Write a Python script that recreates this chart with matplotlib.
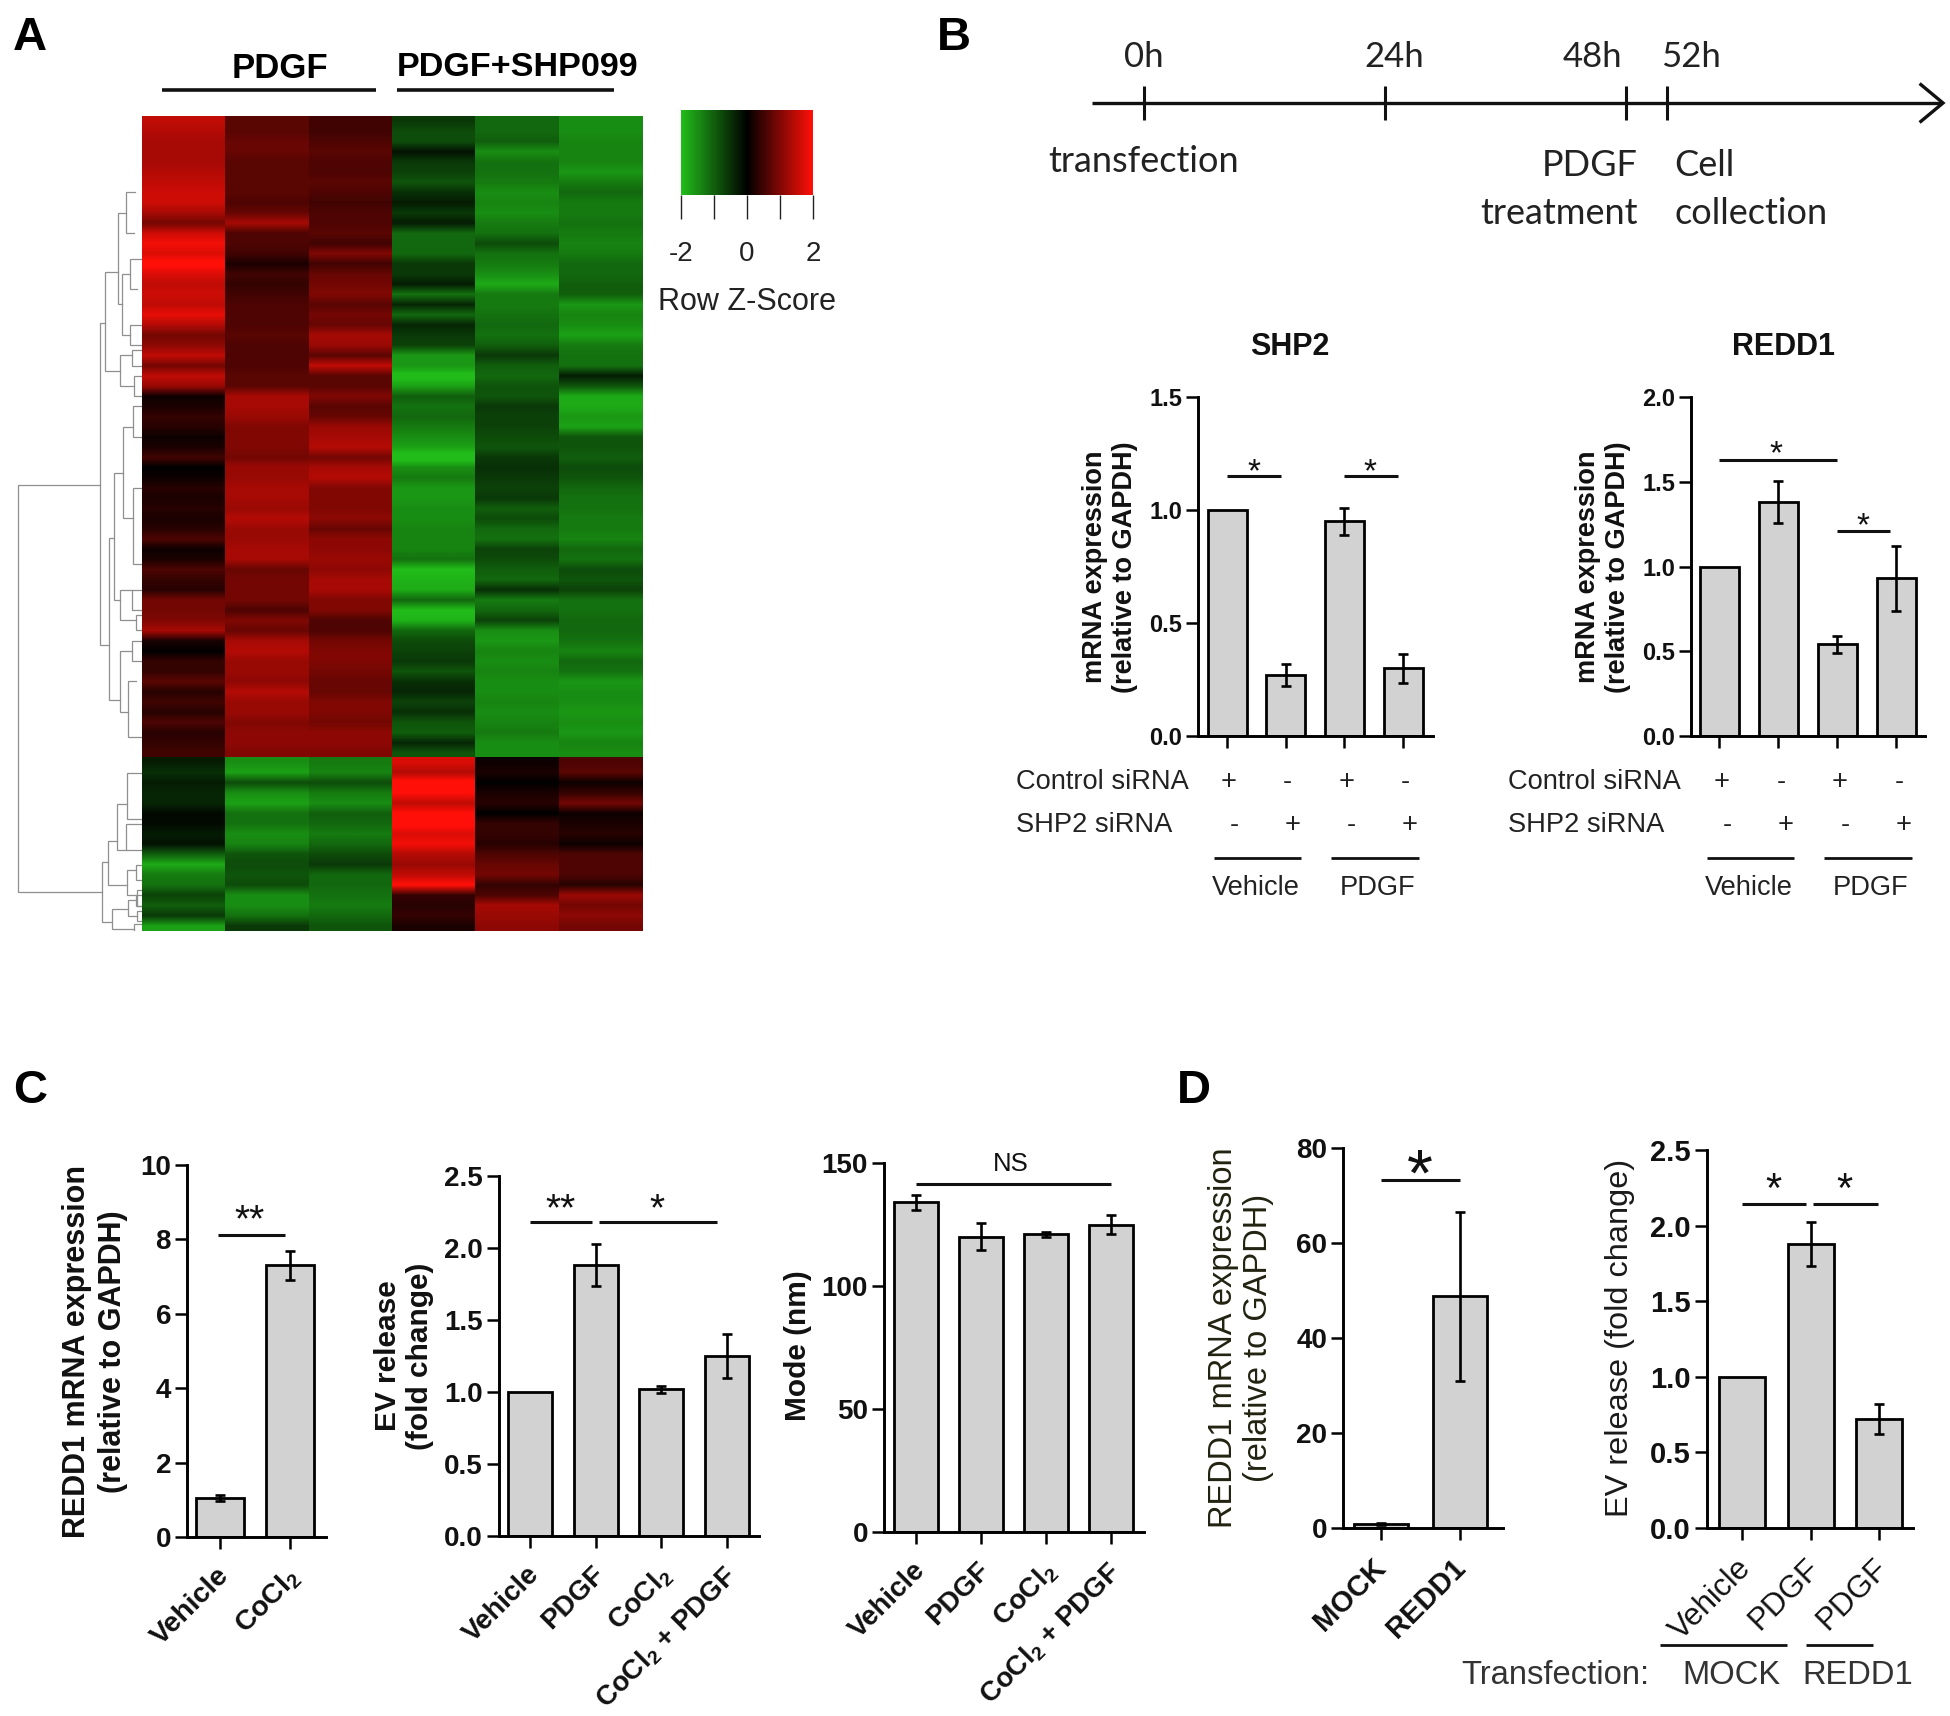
import numpy as np
import matplotlib
matplotlib.use("Agg")
import matplotlib.pyplot as plt
from matplotlib.colors import LinearSegmentedColormap, Normalize
from matplotlib.cm import ScalarMappable

W, H = 1950, 1716
plt.rcParams['font.family'] = ['Liberation Sans', 'DejaVu Sans']
plt.rcParams['mathtext.fontset'] = 'custom'
plt.rcParams['mathtext.rm'] = 'Liberation Sans:bold'
plt.rcParams['mathtext.it'] = 'Liberation Sans:bold'
plt.rcParams['mathtext.bf'] = 'Liberation Sans:bold'
plt.rcParams['mathtext.default'] = 'rm'

# ---------- heatmap values (row z-score x 10), one list per sample ----------
pdgf_1 = [15,14,13,13,13,14,15,16,16,13,9,16,19,17,21,17,15,16,15,18,14,9,11,15,9,15,12,
          1,2,4,3,1,2,5,0,1,3,2,3,2,3,6,1,2,6,4,3,9,9,10,13,2,0,4,4,7,3,5,3,6,3,4,5,
          -3,-5,-3,-4,-4,-1,-1,-3,-2,-10,-18,-13,-12,-7,-10,-6,-17]
pdgf_2 = [7,7,8,8,7,7,7,7,6,8,13,6,6,5,2,5,4,5,6,6,6,7,6,6,6,7,7,
          13,13,12,10,10,10,9,12,12,13,13,12,14,12,12,13,13,8,9,9,9,6,10,8,13,14,12,12,11,14,12,12,10,11,11,10,
          -15,-17,-8,-15,-17,-12,-12,-15,-14,-9,-8,-9,-8,-15,-15,-12,-6]
pdgf_3 = [5,5,6,7,6,6,7,6,5,6,6,7,5,10,5,8,9,10,7,9,8,13,12,7,15,7,7,
          10,7,8,12,13,14,9,13,14,10,10,10,11,8,11,11,12,11,13,13,10,10,6,6,9,10,10,9,8,8,10,10,9,11,11,10,
          -13,-14,-8,-13,-15,-10,-11,-13,-11,-8,-6,-11,-11,-12,-13,-11,-9]
shp_1 = [-6,-8,-8,-2,-6,-7,-9,-5,-3,-6,-3,-11,-11,-11,-6,-6,-3,-12,-4,-11,-4,-6,-7,-16,-16,-21,-17,
         -10,-12,-11,-13,-15,-17,-22,-15,-13,-16,-16,-15,-15,-14,-14,-14,-12,-20,-19,-18,-11,-20,-19,-11,-8,-7,-6,-9,-5,-4,-7,-5,-9,-10,-4,-9,
         17,14,21,20,15,20,21,17,19,14,12,15,20,4,3,4,2]
shp_2 = [-11,-11,-10,-15,-12,-12,-13,-15,-14,-15,-13,-12,-8,-12,-13,-15,-18,-13,-13,-12,-11,-12,-10,-6,-10,-11,-9,
         -9,-6,-7,-7,-8,-9,-6,-5,-6,-7,-6,-10,-8,-11,-12,-7,-8,-10,-11,-5,-13,-11,-7,-15,-16,-14,-15,-14,-15,-15,-14,-15,-14,-13,-15,-15,
         1,2,0,2,3,0,4,4,3,6,8,9,4,6,13,12,11]
shp_3 = [-15,-15,-14,-14,-14,-16,-13,-11,-13,-13,-12,-13,-14,-13,-11,-11,-10,-10,-16,-14,-15,-17,-13,-12,-12,-3,-9,
         -18,-18,-16,-17,-9,-9,-10,-8,-9,-11,-12,-12,-13,-13,-14,-11,-12,-8,-9,-7,-12,-12,-11,-11,-12,-14,-11,-12,-16,-15,-15,-16,-15,-16,-14,-15,
         6,7,1,4,9,1,2,3,1,6,6,6,3,12,9,11,9]
upper_cluster_rows = 63

# ---------- dendrogram merges: height, upper row, upper child height, lower row, lower child height ----------
dend_h  = [124,42,37,24,16,20,12,12,22,10,8,33,28,19,9,9,22,10,6,22,10,14,40,34,25,15,16,15,6,5,30,14,6,5,8]
dend_r1 = [35.7,19.8,14.8,9,7,15,13.5,20,23,22.5,25,40.9,34.5,30,28,36,46,46,48.5,52,51,55,72.7,70.7,67,64,69,73.5,73,75.5,77.3,76.5,76,77.5,78.8]
dend_h1 = [42,37,24,16,7,12,0,0,10,0,0,28,19,9,0,0,10,0,0,10,0,6,34,25,15,0,0,6,0,0,14,6,0,0,0]
dend_r2 = [75.7,51.4,24.5,18,11,21,16.5,22,26,24,27,56.8,47,39,31,43.5,49,48,50,58,53,60.5,78.6,75,71.5,68.5,71.5,76,74.5,77,79.3,78,77,78.5,79.7]
dend_h2 = [40,33,22,20,8,12,5,0,8,0,0,22,22,9,0,0,6,0,0,14,0,0,30,15,16,0,0,5,0,0,8,5,0,0,0]

# ---------- timeline ----------
time_hours = [0, 24, 48, 52]
time_labels = ['0h', '24h', '48h', '52h']

# ---------- bar panels ----------
siRNA_groups = ['Vehicle', 'PDGF']
control_marks = ['+', '-', '+', '-']
shp2_marks = ['-', '+', '-', '+']

shp2_vals = [1.0, 0.27, 0.95, 0.30]
shp2_err = [0, 0.05, 0.06, 0.065]
shp2_ticks = [0.0, 0.5, 1.0, 1.5]

redd1_vals = [1.0, 1.38, 0.54, 0.93]
redd1_err = [0, 0.125, 0.05, 0.19]
redd1_ticks = [0.0, 0.5, 1.0, 1.5, 2.0]

c1_labels = ['Vehicle', r'CoCl$_2$']
c1_vals = [1.05, 7.3]
c1_err = [0.08, 0.38]
c1_ticks = [0, 2, 4, 6, 8, 10]

c2_labels = ['Vehicle', 'PDGF', r'CoCl$_2$', r'CoCl$_2$ + PDGF']
c2_vals = [1.0, 1.88, 1.02, 1.25]
c2_err = [0, 0.145, 0.025, 0.155]
c2_ticks = [0.0, 0.5, 1.0, 1.5, 2.0, 2.5]

c3_vals = [134, 120, 121, 125]
c3_err = [3, 5.5, 1, 4]
c3_ticks = [0, 50, 100, 150]

d1_labels = ['MOCK', 'REDD1']
d1_vals = [0.8, 48.8]
d1_err = [0.2, 17.8]
d1_ticks = [0, 20, 40, 60, 80]

d2_labels = ['Vehicle', 'PDGF', 'PDGF']
d2_vals = [1.0, 1.88, 0.72]
d2_err = [0, 0.145, 0.10]
d2_ticks = [0.0, 0.5, 1.0, 1.5, 2.0, 2.5]

fig = plt.figure(figsize=(W / 100, H / 100), dpi=100, facecolor='white')
PT = 100 / 72
INK = '#111111'
TEXT_DY = 3


def add_axes_px(x0, y0, x1, y1):
    return fig.add_axes([x0 / W, 1 - y1 / H, (x1 - x0) / W, (y1 - y0) / H])


def txt(x, y, s, **kw):
    kw.setdefault('ha', 'center')
    kw.setdefault('va', 'center')
    kw.setdefault('color', INK)
    return fig.text(x / W, 1 - (y + TEXT_DY) / H, s, **kw)


def hline(x0, x1, y, lw=3.0):
    fig.add_artist(plt.Line2D([x0 / W, x1 / W], [1 - y / H, 1 - y / H], color=INK,
                              lw=lw / PT, solid_capstyle='butt'))


def star(x, y, s='*', fs=24):
    # y is the pixel centre of the asterisk glyph; it sits about 0.57 em above the baseline
    fig.text(x / W, 1 - (y + 0.57 * fs * PT) / H, s, ha='center', va='baseline', fontsize=fs, color=INK)


def bar_panel(x_axis, x_right, y_top, y_bottom, x_first, x_step, bar_px, vals, errs, ticks,
              ymax, labels=None, tick_fs=17, label_fs=20, label_weight='bold', tick_weight='bold', label_dx=-4):
    ax = add_axes_px(x_axis, y_top, x_right, y_bottom)
    pos = np.arange(len(vals))
    ax.bar(pos, vals, width=bar_px / x_step, color='#d2d2d2', edgecolor='black', linewidth=2.0, zorder=2)
    for p, v, e in zip(pos, vals, errs):
        if e > 0:
            ax.errorbar(p, v, yerr=e, color='black', elinewidth=1.9, capsize=3.8, capthick=1.9, zorder=3)
    ax.set_xlim((x_axis - x_first) / x_step, (x_right - x_first) / x_step)
    ax.set_ylim(0, ymax)
    ax.set_yticks(ticks)
    ax.set_yticklabels([('%.1f' % t) if isinstance(t, float) else str(t) for t in ticks],
                       fontsize=tick_fs, fontweight=tick_weight, color=INK)
    ax.set_xticks(pos)
    ax.set_xticklabels([])
    if labels is not None:
        for p, lab in zip(pos, labels):
            ax.annotate(lab, xy=(p, 0), xycoords=('data', 'axes fraction'),
                        xytext=(label_dx / PT, -18.5), textcoords='offset points',
                        rotation=45, rotation_mode='anchor', ha='right', va='top',
                        fontsize=label_fs, fontweight=label_weight, color=INK, annotation_clip=False)
    ax.tick_params(axis='both', width=1.8, length=8.5, color='black', pad=3)
    for s in ['top', 'right']:
        ax.spines[s].set_visible(False)
    for s in ['left', 'bottom']:
        ax.spines[s].set_linewidth(2.1)
    ax.patch.set_alpha(0)
    return ax


def sig(ax, x0, x1, y):
    ax.plot([x0, x1], [y, y], color=INK, lw=2.2, solid_capstyle='butt', clip_on=False, zorder=4)


# ---------- Panel letters ----------
for letter, x, y in [('A', 30, 35), ('B', 954, 35), ('C', 30, 1088), ('D', 1194, 1088)]:
    txt(x, y, letter, fontsize=34, fontweight='bold', color='black')

# ---------- Panel A ----------
hm_left, hm_right, hm_top, hm_bottom = 142, 642, 116, 931
n_rows = len(pdgf_1)
ax = add_axes_px(hm_left, hm_top, hm_right, hm_bottom)
cmap = LinearSegmentedColormap.from_list('gbr', [(0.13, 0.74, 0.10), (0, 0, 0), (1.0, 0.06, 0.03)])
for j, col in enumerate([pdgf_1, pdgf_2, pdgf_3, shp_1, shp_2, shp_3]):
    # one image per sample and cluster keeps those edges sharp while rows blend as in the reference
    col = np.array(col) / 10.0
    for first, last in [(0, upper_cluster_rows), (upper_cluster_rows, n_rows)]:
        ax.imshow(col[first:last, None], aspect='auto', cmap=cmap, vmin=-2, vmax=2,
                  interpolation='bilinear', extent=(j - 0.5, j + 0.5, last - 0.5, first - 0.5))
ax.set_xlim(-0.5, 5.5)
ax.set_ylim(n_rows - 0.5, -0.5)
ax.axis('off')

dax = add_axes_px(0, hm_top, hm_left, hm_bottom)
dax.set_xlim(hm_left, 0)
dax.set_ylim(n_rows - 0.5, -0.5)
dax.axis('off')
for h, r1, h1, r2, h2 in zip(dend_h, dend_r1, dend_h1, dend_r2, dend_h2):
    dax.plot([h1, h, h, h2], [r1, r1, r2, r2], color='#8f8f8f', lw=0.9, solid_joinstyle='miter')

txt(280, 65, 'PDGF', fontsize=25, fontweight='bold', color='black')
txt(518, 64, 'PDGF+SHP099', fontsize=24.6, fontweight='bold', color='black')
hline(162, 376, 90, 3.6)
hline(397, 614, 90, 3.6)

cax = add_axes_px(681, 110, 813, 195)
cb = fig.colorbar(ScalarMappable(norm=Normalize(-2, 2), cmap=cmap), cax=cax, orientation='horizontal')
cb.set_ticks([-2, -1, 0, 1, 2])
cb.set_ticklabels(['-2', '', '0', '', '2'])
cb.ax.tick_params(length=17, width=1.0, pad=16, labelsize=20, labelcolor='#222222', color='#222222')
cb.outline.set_visible(False)
txt(747, 299, 'Row Z-Score', fontsize=22, color='#222222')

# ---------- Panel B timeline ----------
tax = add_axes_px(1092, 80, 1945, 126)
t0, t1 = (1092 - 1144) / 10.05, (1945 - 1144) / 10.05
tax.set_xlim(t0, t1)
tax.set_ylim(-1, 1)
tax.axis('off')
tax.plot([t0, t1 - 0.3], [0, 0], color=INK, lw=2.4, solid_capstyle='butt')
tax.plot([t1 - 2.4, t1 - 0.2, t1 - 2.4], [0.8, 0, -0.8], color=INK, lw=2.4, solid_joinstyle='miter', clip_on=False)
tax.vlines(time_hours, -0.75, 0.75, color=INK, lw=2.2)
for lab, x in zip(time_labels, [1144, 1394, 1592, 1691]):
    txt(x, 54, lab, fontsize=25, family=['Lato', 'DejaVu Sans'], color='#222222')
TL = dict(fontsize=26, family=['Lato', 'DejaVu Sans'], color='#222222')
txt(1144, 159, 'transfection', **TL)
txt(1638, 163, 'PDGF', ha='right', **TL)
txt(1638, 210, 'treatment', ha='right', **TL)
txt(1674, 163, 'Cell', ha='left', **TL)
txt(1674, 210, 'collection', ha='left', **TL)

# ---------- Panel B bars ----------
SHP_TOP, SHP_BOT = 397, 736
ax = bar_panel(1198, 1433, SHP_TOP, SHP_BOT, 1227, 58.7, 39, shp2_vals, shp2_err, shp2_ticks, 1.5)
sig(ax, 0, 0.92, 1.15)
sig(ax, 2.0, 2.92, 1.15)
star(1254, 462)
star(1370, 462)
ax = bar_panel(1691, 1925, SHP_TOP, SHP_BOT, 1719, 59, 39, redd1_vals, redd1_err, redd1_ticks, 2.0)
sig(ax, 0, 2, 1.63)
sig(ax, 2, 2.9, 1.21)
star(1776, 444)
star(1863, 516)

txt(1290, 344, 'SHP2', fontsize=22, fontweight='bold')
txt(1783, 344, 'REDD1', fontsize=22, fontweight='bold')

for dx, first, step, ylab_x in [(0, 1229, 58.7, 1110), (492.5, 1722, 59, 1603)]:
    txt(ylab_x, 564, 'mRNA expression\n(relative to GAPDH)', rotation=90, fontsize=19.5,
        fontweight='bold', linespacing=1.22, multialignment='center')
    txt(1016 + dx, 779, 'Control siRNA', ha='left', fontsize=19.6, color='#222222')
    txt(1016 + dx, 822, 'SHP2 siRNA', ha='left', fontsize=19.6, color='#222222')
    for i in range(4):
        txt(first + i * step, 779, control_marks[i], fontsize=19.6, color='#222222')
        txt(first + i * step + 5, 822, shp2_marks[i], fontsize=19.6, color='#222222')
    hline(1214 + dx, 1301 + dx, 858, 2.8)
    hline(1331 + dx, 1419 + dx, 858, 2.8)
    txt(1256 + dx, 885, siRNA_groups[0], fontsize=19.6, color='#222222')
    txt(1378 + dx, 885, siRNA_groups[1], fontsize=19.6, color='#222222')

# ---------- Panel C ----------
ax = bar_panel(187, 326, 1165, 1537, 220, 70, 48, c1_vals, c1_err, c1_ticks, 10, c1_labels,
               tick_fs=20, label_fs=20.5)
sig(ax, -0.03, 0.93, 8.12)
star(250, 1209, '**', 28)
txt(95, 1349, 'REDD1 mRNA expression\n(relative to GAPDH)', rotation=90, fontsize=22,
    fontweight='bold', linespacing=1.22, multialignment='center')

ax = bar_panel(499, 759, 1176, 1536, 530, 65.6, 44, c2_vals, c2_err, c2_ticks, 2.5, c2_labels,
               tick_fs=20, label_fs=20)
sig(ax, 0, 0.95, 2.18)
sig(ax, 1.05, 2.85, 2.18)
star(561, 1198, '**', 28)
star(657, 1198, '*', 28)
txt(404, 1353, 'EV release\n(fold change)', rotation=90, fontsize=21.5,
    fontweight='bold', linespacing=1.22, multialignment='center')

ax = bar_panel(884, 1144, 1163, 1532, 916, 65, 44, c3_vals, c3_err, c3_ticks, 150, c2_labels,
               tick_fs=20, label_fs=20)
sig(ax, 0, 3, 141.5)
txt(1011, 1161, 'NS', fontsize=18.5)
txt(798, 1343, 'Mode (nm)', rotation=90, fontsize=21.5, fontweight='bold')

# ---------- Panel D ----------
ax = bar_panel(1343, 1503, 1148, 1528, 1381, 79, 54, d1_vals, d1_err, d1_ticks, 80, d1_labels,
               tick_fs=20, label_fs=21, label_dx=-9)
sig(ax, 0, 1, 73.3)
star(1420, 1158, '*', 48)
txt(1241, 1335, 'REDD1 mRNA expression\n(relative to GAPDH)', rotation=90, fontsize=23.5,
    linespacing=1.2, multialignment='center', color='#222211')

ax = bar_panel(1707, 1913, 1150, 1528, 1742, 68.5, 46, d2_vals, d2_err, d2_ticks, 2.5, d2_labels, tick_fs=21,
               label_fs=22.5, label_weight='normal', label_dx=-6)
sig(ax, 0, 0.93, 2.14)
sig(ax, 1.04, 1.98, 2.14)
star(1773, 1178, '*', 30)
star(1844, 1178, '*', 30)
txt(1620, 1335, 'EV release (fold change)', rotation=90, fontsize=23.4, color='#1a1a1a')
hline(1660, 1787, 1645, 2.8)
hline(1806, 1873, 1645, 2.8)
txt(1461, 1672, 'Transfection:', ha='left', fontsize=23.6, color='#333333')
txt(1731, 1672, 'MOCK', fontsize=23.6, color='#333333')
txt(1858, 1672, 'REDD1', fontsize=23.6, color='#333333')

fig.savefig('out.png', dpi=100, facecolor='white')
